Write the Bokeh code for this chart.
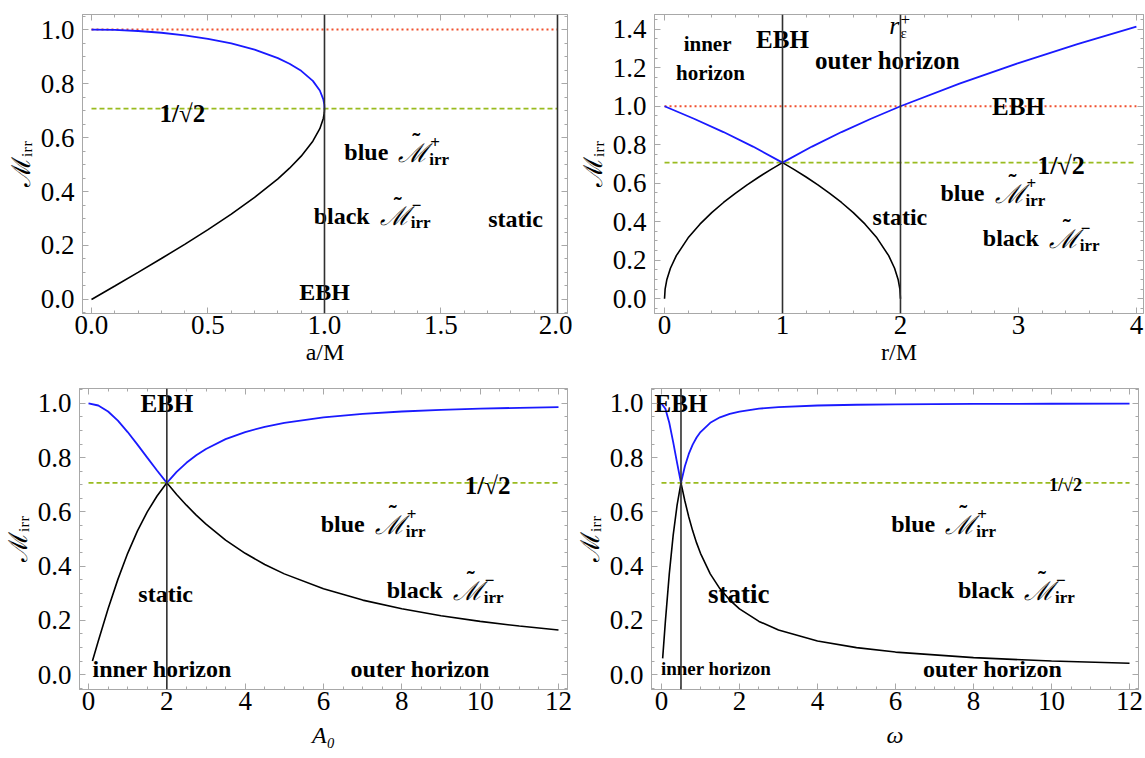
from bokeh.plotting import figure
from bokeh.layouts import column, row
from bokeh.models import (Span, LinearAxis, SingleIntervalTicker, NumeralTickFormatter,
                          CustomJSTickFormatter, ColumnDataSource, Range1d)
from bokeh.core.properties import value, field
from bokeh.embed import file_html
from bokeh.resources import INLINE

# ---------------- data ----------------
# Panel 1: a/M
p1_a_blue = [0, 0.1, 0.2, 0.3, 0.4, 0.5, 0.6, 0.7, 0.8, 0.85, 0.9, 0.95, 0.98, 0.995, 0.999, 1.0]
p1_m_blue = [1.0, 0.9987, 0.9949, 0.9884, 0.9789, 0.9659, 0.9487, 0.9258, 0.8944, 0.8737,
             0.8473, 0.8100, 0.7743, 0.7416, 0.7228, 0.7071]
p1_a_black = [0, 0.1, 0.2, 0.3, 0.4, 0.5, 0.6, 0.7, 0.8, 0.85, 0.9, 0.95, 0.98, 0.995, 0.999, 1.0]
p1_m_black = [0.0, 0.0501, 0.1005, 0.1518, 0.2043, 0.2588, 0.3162, 0.3781, 0.4472, 0.4864,
              0.5311, 0.5864, 0.6329, 0.6709, 0.6911, 0.7071]
p1_vlines = [1.0, 2.0]
p1_domain = [0.0, 2.0]

# Panel 2: r/M
p2_r_blue = [0, 0.25, 0.5, 0.75, 1.0, 1.25, 1.5, 1.75, 2.0, 2.5, 3.0, 3.5, 4.0]
p2_m_blue = [1.0, 0.9354, 0.8660, 0.7906, 0.7071, 0.7906, 0.8660, 0.9354, 1.0, 1.1180,
             1.2247, 1.3229, 1.4142]
p2_r_black = [0, 0.005, 0.02, 0.05, 0.1, 0.2, 0.3, 0.4, 0.5, 0.6, 0.7, 0.8, 0.9, 1.0, 1.1, 1.2,
              1.3, 1.4, 1.5, 1.6, 1.7, 1.8, 1.9, 1.95, 1.98, 1.995, 2.0]
p2_m_black = [0.0, 0.05, 0.1, 0.1581, 0.2236, 0.3162, 0.3873, 0.4472, 0.5, 0.5477, 0.5916,
              0.6325, 0.6708, 0.7071, 0.6708, 0.6325, 0.5916, 0.5477, 0.5, 0.4472, 0.3873,
              0.3162, 0.2236, 0.1581, 0.1, 0.05, 0.0]
p2_vlines = [1.0, 2.0]
p2_domain = [0.0, 4.0]

# Panel 3: A0
p3_x_blue = [0, 0.25, 0.5, 0.75, 1.0, 1.25, 1.5, 1.75, 2.0, 2.25, 2.5, 2.75, 3, 3.5, 4, 4.5, 5, 6,
             7, 8, 9, 10, 11, 12]
p3_m_blue = [1.0, 0.9923, 0.9701, 0.9363, 0.8944, 0.8480, 0.8, 0.7526, 0.7071, 0.7474, 0.7809,
             0.8087, 0.8321, 0.8682, 0.8944, 0.9138, 0.9285, 0.9487, 0.9615, 0.9701, 0.9762,
             0.9806, 0.9839, 0.9864]
p3_x_black = [0.1, 0.25, 0.5, 0.75, 1.0, 1.25, 1.5, 1.75, 2.0, 2.25, 2.5, 2.75, 3, 3.5, 4, 4.5, 5,
              6, 7, 8, 9, 10, 11, 12]
p3_m_black = [0.0499, 0.124, 0.2425, 0.3511, 0.4472, 0.5300, 0.6, 0.6585, 0.7071, 0.6644, 0.6247,
              0.5881, 0.5547, 0.4961, 0.4472, 0.4061, 0.3714, 0.3162, 0.2747, 0.2425, 0.2169,
              0.1961, 0.1789, 0.1644]
p3_vlines = [2.0]
p3_domain = [0.0, 12.0]

# Panel 4: omega
p4_x_blue = [0, 0.1, 0.2, 0.3, 0.4, 0.5, 0.6, 0.7, 0.8, 0.9, 1.0, 1.25, 1.5, 1.75, 2, 2.5, 3, 4, 5,
             6, 8, 10, 12]
p4_m_blue = [1.0, 0.9806, 0.9285, 0.8575, 0.7809, 0.7071, 0.7682, 0.8137, 0.8480, 0.8742, 0.8944,
             0.9285, 0.9487, 0.9615, 0.9701, 0.9806, 0.9864, 0.9923, 0.9950, 0.9965, 0.9981,
             0.9988, 0.9991]
p4_x_black = [0.03, 0.1, 0.2, 0.3, 0.4, 0.5, 0.6, 0.7, 0.8, 0.9, 1.0, 1.25, 1.5, 1.75, 2, 2.5, 3,
              4, 5, 6, 8, 10, 12]
p4_m_black = [0.0599, 0.1961, 0.3714, 0.5145, 0.6247, 0.7071, 0.6402, 0.5812, 0.53, 0.4856, 0.4472,
              0.3714, 0.3162, 0.2747, 0.2425, 0.1961, 0.1644, 0.124, 0.0995, 0.0830, 0.0624,
              0.0499, 0.0416]
p4_vlines = [0.5]
p4_domain = [0.0, 12.0]

extremal_level = 1.0
half_level = 0.7071

# annotations (x, y, text, size)
p1_notes = dict(x=[0.39, 1.82, 1.0], y=[0.69, 0.30, 0.026],
                text=["1/√2", "static", "EBH"], size=["25px", "24px", "24px"])
p1_mlabels = dict(x=[1.45, 1.37], y=[0.545, 0.31], word=["blue", "black"], sign=["+", "−"])

p2_notes = dict(x=[0.365, 0.39, 1.0, 1.89, 3.0, 3.36, 1.995],
                y=[1.325, 1.173, 1.345, 1.238, 0.997, 0.694, 0.427],
                text=["inner", "horizon", "EBH", "outer horizon", "EBH", "1/√2", "static"],
                size=["21px", "21px", "25px", "25px", "25px", "26px", "24px"])
p2_mlabels = dict(x=[3.06, 3.52], y=[0.547, 0.314], word=["blue", "black"], sign=["+", "−"])

p3_notes = dict(x=[2.0, 10.19, 1.97, 1.88, 8.47], y=[1.0, 0.698, 0.296, 0.022, 0.022],
                text=["EBH", "1/√2", "static", "inner horizon", "outer horizon"],
                size=["25px", "25px", "24px", "24px", "24px"])
p3_mlabels = dict(x=[8.1, 10.09], y=[0.555, 0.311], word=["blue", "black"], sign=["+", "−"])

p4_notes = dict(x=[0.5, 10.36, 1.98, 1.40, 8.49], y=[1.0, 0.699, 0.296, 0.022, 0.022],
                text=["EBH", "1/√2", "static", "inner horizon", "outer horizon"],
                size=["25px", "18px", "27px", "19px", "24px"])
p4_mlabels = dict(x=[8.07, 10.09], y=[0.555, 0.311], word=["blue", "black"], sign=["+", "−"])

SERIF = "Liberation Serif"
FRAME = "#a8a8a8"


def panel(w, h, bl, br, bt, bb, xr, yr, xint, xminor, yint, yminor, xfmt, xlabel, xstyle, xstand):
    p = figure(width=w, height=h, x_range=Range1d(*xr), y_range=Range1d(*yr),
               output_backend="svg", toolbar_location=None,
               min_border_left=bl, min_border_right=br, min_border_top=bt, min_border_bottom=bb)
    p.grid.visible = False
    p.outline_line_color = FRAME
    p.background_fill_color = "white"
    p.border_fill_color = "white"
    xt = SingleIntervalTicker(interval=xint, num_minor_ticks=xminor)
    yt = SingleIntervalTicker(interval=yint, num_minor_ticks=yminor)
    bottom = p.below[0]
    left = p.left[0]
    bottom.ticker = xt
    left.ticker = yt
    bottom.formatter = NumeralTickFormatter(format=xfmt)
    left.formatter = NumeralTickFormatter(format="0.0")
    top = LinearAxis(ticker=xt, formatter=CustomJSTickFormatter(code="return ''"))
    right = LinearAxis(ticker=yt, formatter=CustomJSTickFormatter(code="return ''"))
    p.add_layout(top, "above")
    p.add_layout(right, "right")
    for ax in (bottom, left, top, right):
        ax.axis_line_color = FRAME
        ax.major_tick_line_color = FRAME
        ax.minor_tick_line_color = FRAME
        ax.major_tick_in = 6
        ax.major_tick_out = 0
        ax.minor_tick_in = 3
        ax.minor_tick_out = 0
        ax.major_label_text_font = SERIF
        ax.major_label_text_font_size = "27px"
        ax.major_label_text_color = "black"
    for ax in (top, right):
        ax.major_label_standoff = 0
        ax.major_label_text_font_size = "1px"
    bottom.major_label_standoff = 2
    left.major_label_standoff = 8
    bottom.axis_label = xlabel
    bottom.axis_label_text_font = SERIF
    bottom.axis_label_text_font_size = "24px"
    bottom.axis_label_text_font_style = xstyle
    bottom.axis_label_text_color = "black"
    bottom.axis_label_standoff = xstand
    left.axis_label = "ℳᵢᵣᵣ"
    left.axis_label_text_font = SERIF
    left.axis_label_text_font_size = "26px"
    left.axis_label_text_font_style = "normal"
    left.axis_label_text_color = "black"
    left.axis_label_standoff = 2
    return p


def decorate(p, domain, vlines, with_dotted, xb, yb, xk, yk, notes, ml):
    if with_dotted:
        p.line(domain, [extremal_level] * 2, line_color="#f0502e", line_width=2, line_dash="2 3")
    p.line(domain, [half_level] * 2, line_color="#99bb1f", line_width=1.6, line_dash="5 3")
    for v in vlines:
        p.add_layout(Span(location=v, dimension="height", line_color="#303030", line_width=1.6))
    p.line(xk, yk, line_color="black", line_width=1.6)
    p.line(xb, yb, line_color="#1a1aff", line_width=1.8)
    src = ColumnDataSource(notes)
    p.text(x="x", y="y", text="text", source=src, text_font=value(SERIF), text_font_style="bold",
           text_font_size=field("size"), text_align="center", text_baseline="middle", text_color="black")
    n = len(ml["x"])
    msrc = ColumnDataSource(dict(ml, sub=["irr"] * n, m=["ℳ"] * n, tilde=["˜"] * n))
    common = dict(source=msrc, text_font=value(SERIF), text_baseline="middle", text_color="black")
    p.text(x="x", y="y", text="word", text_font_style="bold", text_font_size="24px",
           text_align="right", x_offset=-41, **common)
    p.text(x="x", y="y", text="m", text_font_style="italic", text_font_size="26px",
           text_align="right", x_offset=-1, y_offset=1, **common)
    p.text(x="x", y="y", text="tilde", text_font_style="bold", text_font_size="24px",
           text_align="center", x_offset=-13, y_offset=-11, **common)
    p.text(x="x", y="y", text="sign", text_font_style="bold", text_font_size="17px",
           text_align="left", y_offset=-10, x_offset=1, **common)
    p.text(x="x", y="y", text="sub", text_font_style="bold", text_font_size="17px",
           text_align="left", y_offset=7, x_offset=0, **common)


p1 = panel(572, 370, 82, 5, 14, 57, (-0.0386, 2.043), (-0.052, 1.056), 0.5, 5, 0.2, 4, "0.0", "a/M", "normal", 2)
decorate(p1, p1_domain, p1_vlines, True, p1_a_blue, p1_m_blue, p1_a_black, p1_m_black, p1_notes, p1_mlabels)

p2 = panel(573, 370, 82, 2, 11, 57, (-0.085, 4.06), (-0.077, 1.477), 1, 5, 0.2, 4, "0", "r/M", "normal", 2)
decorate(p2, p2_domain, p2_vlines, True, p2_r_blue, p2_m_blue, p2_r_black, p2_m_black, p2_notes, p2_mlabels)
rlab = ColumnDataSource(dict(x=[2.0], y=[1.42], r=["r"], sup=["+"], sub=["ε"]))
p2.text(x="x", y="y", text="r", source=rlab, text_font=value(SERIF), text_font_style="italic",
        text_font_size="26px", text_align="right", text_baseline="middle", text_color="black", x_offset=-1)
p2.text(x="x", y="y", text="sup", source=rlab, text_font=value(SERIF), text_font_size="17px",
        text_align="left", text_baseline="middle", text_color="black", y_offset=-6)
p2.text(x="x", y="y", text="sub", source=rlab, text_font=value(SERIF), text_font_size="15px",
        text_align="left", text_baseline="middle", text_color="black", y_offset=8)

p3 = panel(572, 388, 79, 5, 18, 69, (-0.23, 12.23), (-0.055, 1.055), 2, 4, 0.2, 4, "0", "A₀", "italic", 9)
decorate(p3, p3_domain, p3_vlines, False, p3_x_blue, p3_m_blue, p3_x_black, p3_m_black, p3_notes, p3_mlabels)

p4 = panel(573, 388, 79, 7, 18, 69, (-0.256, 12.23), (-0.055, 1.055), 2, 4, 0.2, 4, "0", "ω", "italic", 9)
decorate(p4, p4_domain, p4_vlines, False, p4_x_blue, p4_m_blue, p4_x_black, p4_m_black, p4_notes, p4_mlabels)

layout = column(row(p1, p2), row(p3, p4))
open("out.html", "w").write(file_html(layout, INLINE))
